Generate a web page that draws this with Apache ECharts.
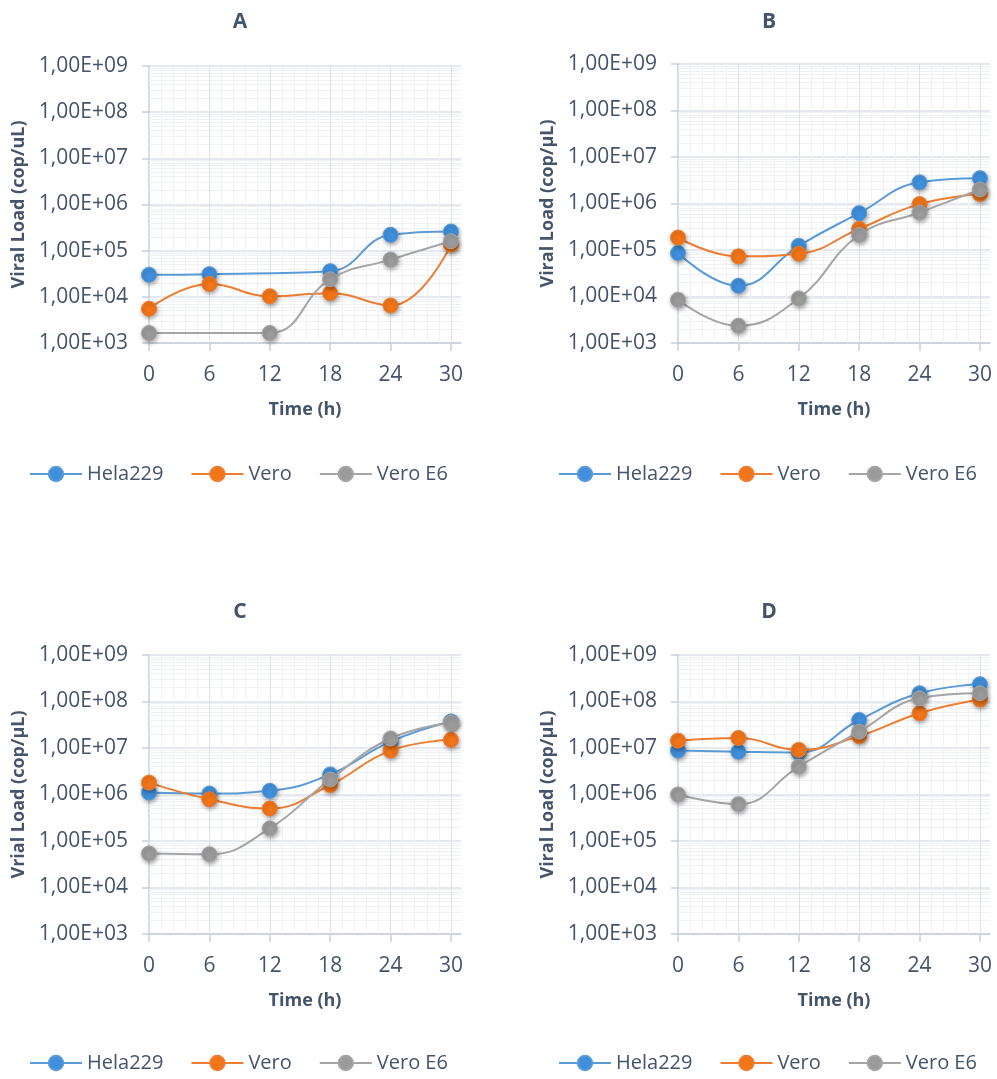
<!DOCTYPE html>
<html>
<head>
<meta charset="utf-8">
<script src="https://cdn.jsdelivr.net/npm/echarts@6/dist/echarts.min.js"></script>
<style>
  html, body { margin: 0; padding: 0; background: #ffffff; }
  #chart { width: 997px; height: 1079px; }
</style>
</head>
<body>
<div id="chart"></div>
<script>
// ---- Data: viral load (copies/µL) per time point, four experiments ----
const hours = [0, 6, 12, 18, 24, 30];
const seriesNames = ['Hela229', 'Vero', 'Vero E6'];
const panelTitles = ['A', 'B', 'C', 'D'];
const yAxisTitles = ['Viral Load (cop/uL)', 'Viral Load (cop/µL)', 'Vrial Load (cop/µL)', 'Viral Load (cop/µL)'];
const xAxisTitle = 'Time (h)';
const xTickLabels = [0, 6, 12, 18, 24, 30];

// Panel A (null = no measurement at that time point)
const helaA   = [3.0e4, 3.1e4, null,   3.6e4,  2.2e5,  2.6e5];
const veroA   = [5.5e3, 1.9e4, 1.03e4, 1.2e4,  6.5e3,  1.35e5];
const veroE6A = [1.65e3, null, 1.65e3, 2.4e4,  6.4e4,  1.6e5];

// Panel B
const helaB   = [8.6e4, 1.7e4, 1.23e5, 6.2e5, 2.85e6, 3.5e6];
const veroB   = [1.85e5, 7.3e4, 8.3e4, 2.85e5, 9.7e5, 1.6e6];
const veroE6B = [8.5e3, 2.35e3, 9.1e3, 2.1e5, 6.4e5, 2.0e6];

// Panel C
const helaC   = [1.1e6, 1.05e6, 1.2e6, 2.7e6, 1.37e7, 3.7e7];
const veroC   = [1.8e6, 7.9e5, 5.0e5, 1.6e6, 8.8e6, 1.5e7];
const veroE6C = [5.4e4, 5.2e4, 1.87e5, 2.1e6, 1.6e7, 3.5e7];

// Panel D
const helaD   = [8.8e6, 8.3e6, 8.0e6, 4.0e7, 1.5e8, 2.35e8];
const veroD   = [1.44e7, 1.64e7, 9.1e6, 1.8e7, 5.6e7, 1.1e8];
const veroE6D = [1.0e6, 6.2e5, 3.97e6, 2.24e7, 1.17e8, 1.5e8];

const panelData = [
  [helaA, veroA, veroE6A],
  [helaB, veroB, veroE6B],
  [helaC, veroC, veroE6C],
  [helaD, veroD, veroE6D]
];

// ---- Layout and styling ----
const FONT = '"Open Sans", "Noto Sans", sans-serif';
const TEXT = '#44546a';
const AXIS_LINE = '#c9d0dc';
const GRID_MAJOR = '#dde1e8';
const GRID_MINOR = '#eff1f5';
const lineColors = ['#5b9bd5', '#ed7d31', '#a5a5a5'];
const markerColors = ['#3f8fdc', '#f27518', '#9b9b9b'];
const X_MAX = 31;

const panels = [
  { titleX: 235, titleY: 7,   left: 149, top: 66,  width: 312, height: 277, legendLeft: 29,  legendTop: 464 },
  { titleX: 764, titleY: 7,   left: 678, top: 64,  width: 312, height: 279, legendLeft: 558, legendTop: 464 },
  { titleX: 235, titleY: 597, left: 149, top: 655, width: 312, height: 279, legendLeft: 29,  legendTop: 1053 },
  { titleX: 764, titleY: 597, left: 678, top: 655, width: 312, height: 279, legendLeft: 558, legendTop: 1053 }
];

function sciLabel(v) {
  const e = Math.round(Math.log10(v));
  return '1,00E+' + (e < 10 ? '0' + e : String(e));
}

// Gridline positions: decade sub-divisions on the log axis, 1.2 h steps on the time axis
function gridMarkLines() {
  const items = [];
  for (let k = 3; k < 9; k++) {
    for (let m = 2; m <= 9; m++) {
      items.push({ yAxis: m * Math.pow(10, k), lineStyle: { color: GRID_MINOR, width: 1, type: 'solid' } });
    }
  }
  for (let i = 1; i * 1.2 < X_MAX; i++) {
    const x = Math.round(i * 1.2 * 10) / 10;
    const major = i % 5 === 0;
    items.push({ xAxis: x, lineStyle: { color: major ? GRID_MAJOR : GRID_MINOR, width: 1, type: 'solid' } });
  }
  return items;
}

const option = {
  backgroundColor: '#ffffff',
  animation: false,
  title: [], grid: [], xAxis: [], yAxis: [], legend: [], series: []
};

panels.forEach((p, idx) => {
  option.title.push({
    text: panelTitles[idx],
    left: p.titleX, top: p.titleY, textAlign: 'center',
    textStyle: { fontFamily: FONT, fontWeight: 'bold', fontSize: 21, color: TEXT }
  });
  option.grid.push({ left: p.left, top: p.top, width: p.width, height: p.height, containLabel: false });
  option.xAxis.push({
    type: 'value', gridIndex: idx, min: 0, max: X_MAX,
    name: xAxisTitle, nameLocation: 'middle', nameGap: 58,
    nameTextStyle: { fontFamily: FONT, fontWeight: 'bold', fontSize: 18, color: TEXT },
    axisLine: { show: true, lineStyle: { color: AXIS_LINE, width: 1.5 } },
    axisTick: { show: true, inside: false, length: 8, customValues: xTickLabels, lineStyle: { color: AXIS_LINE, width: 1.5 } },
    axisLabel: { customValues: xTickLabels, margin: 22, fontFamily: FONT, fontSize: 21, color: TEXT },
    splitLine: { show: false }
  });
  option.yAxis.push({
    type: 'log', logBase: 10, gridIndex: idx, min: 1e3, max: 1e9, splitNumber: 6,
    name: yAxisTitles[idx], nameLocation: 'middle', nameRotate: 90, nameGap: 121,
    nameTextStyle: { fontFamily: FONT, fontWeight: 'bold', fontSize: 18, color: TEXT },
    axisLine: { show: true, lineStyle: { color: AXIS_LINE, width: 1.5 } },
    axisTick: { show: true, inside: false, length: 7, lineStyle: { color: AXIS_LINE, width: 1.5 } },
    axisLabel: { margin: 21, fontFamily: FONT, fontSize: 21, color: TEXT, formatter: sciLabel },
    splitLine: { show: true, lineStyle: { color: GRID_MAJOR, width: 1.5 } }
  });
  option.legend.push({
    left: p.legendLeft, top: p.legendTop, orient: 'horizontal', padding: 0,
    itemWidth: 52, itemHeight: 18, itemGap: 27,
    data: seriesNames,
    textStyle: { fontFamily: FONT, fontSize: 20, color: TEXT }
  });
  // gridlines, kept beneath the data lines
  option.series.push({
    type: 'line', name: 'grid' + idx, xAxisIndex: idx, yAxisIndex: idx, data: [], z: 1,
    silent: true, symbol: 'none',
    markLine: { silent: true, z: 1, symbol: ['none', 'none'], label: { show: false }, animation: false, data: gridMarkLines() }
  });
  panelData[idx].forEach((vals, s) => {
    const pts = [];
    hours.forEach((h, i) => { if (vals[i] != null) pts.push([h, vals[i]]); });
    option.series.push({
      type: 'line', name: seriesNames[s], xAxisIndex: idx, yAxisIndex: idx,
      data: pts, smooth: 0.45, z: 3 + s,
      symbol: 'circle', symbolSize: 15,
      lineStyle: { color: lineColors[s], width: 2 },
      itemStyle: {
        color: markerColors[s], borderColor: lineColors[s], borderWidth: 1,
        shadowColor: 'rgba(0,0,0,0.35)', shadowBlur: 4, shadowOffsetX: 1, shadowOffsetY: 2
      }
    });
  });
});

const chart = echarts.init(document.getElementById('chart'), null, { renderer: 'canvas' });
chart.setOption(option);
</script>
</body>
</html>
